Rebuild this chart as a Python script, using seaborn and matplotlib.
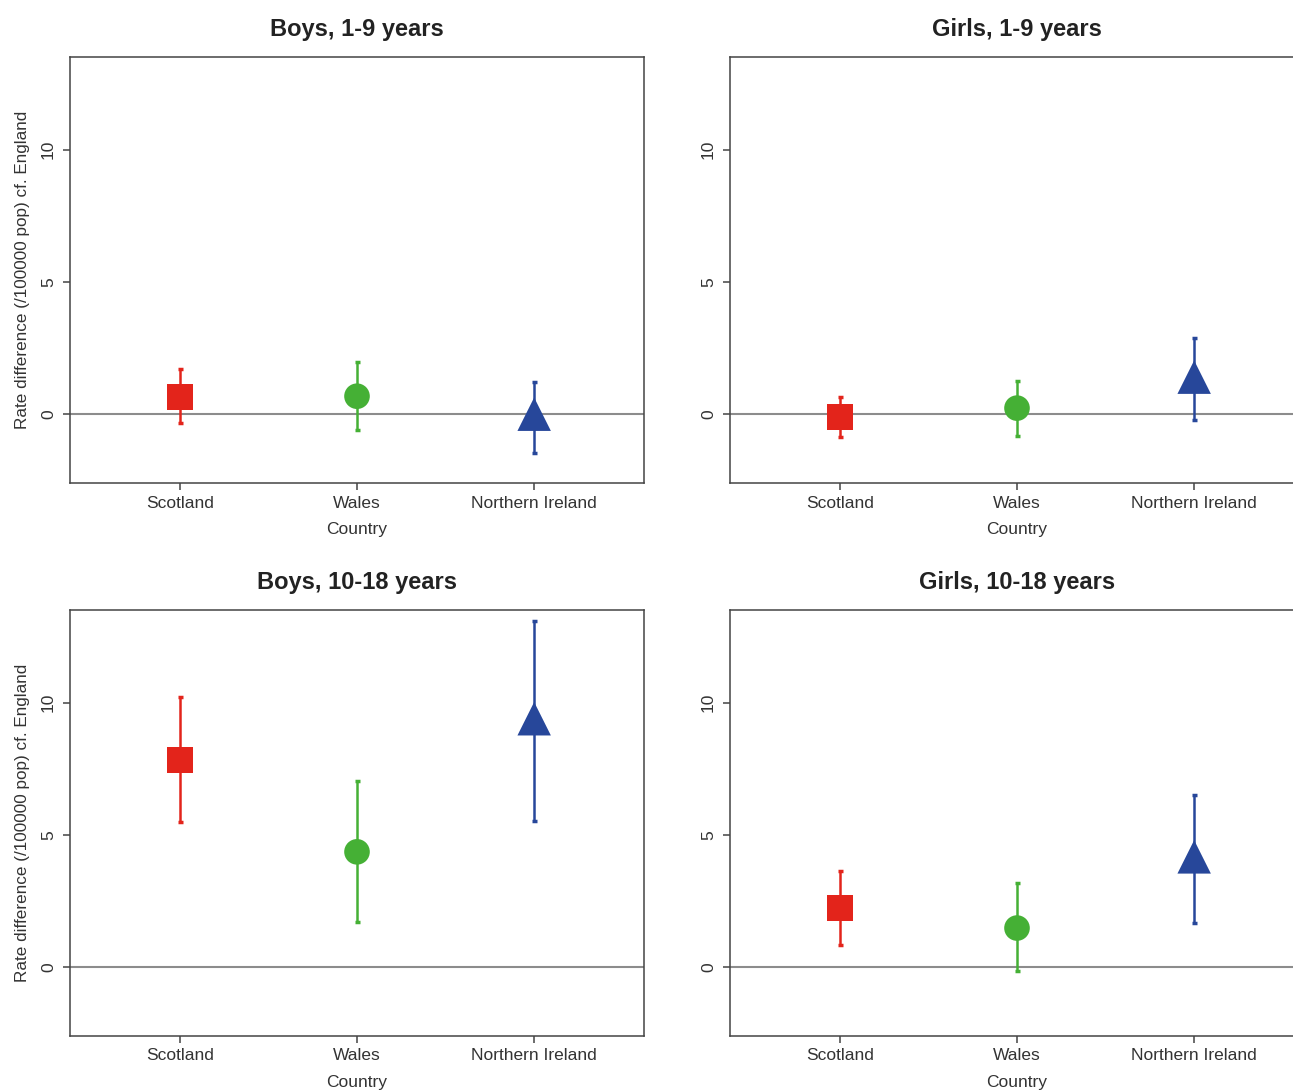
import numpy as np
import pandas as pd
import matplotlib
matplotlib.use("Agg")
import matplotlib.pyplot as plt
import seaborn as sns

countries = ["Scotland", "Wales", "Northern Ireland"]
panels = ["Boys, 1-9 years", "Girls, 1-9 years", "Boys, 10-18 years", "Girls, 10-18 years"]

est = {
    "Boys, 1-9 years": [0.65, 0.68, 0.0],
    "Girls, 1-9 years": [-0.1, 0.23, 1.4],
    "Boys, 10-18 years": [7.84, 4.36, 9.39],
    "Girls, 10-18 years": [2.23, 1.48, 4.17],
}
lower = {
    "Boys, 1-9 years": [-0.34, -0.6, -1.48],
    "Girls, 1-9 years": [-0.87, -0.83, -0.23],
    "Boys, 10-18 years": [5.49, 1.7, 5.53],
    "Girls, 10-18 years": [0.83, -0.15, 1.67],
}
upper = {
    "Boys, 1-9 years": [1.7, 1.97, 1.2],
    "Girls, 1-9 years": [0.64, 1.25, 2.88],
    "Boys, 10-18 years": [10.23, 7.05, 13.07],
    "Girls, 10-18 years": [3.64, 3.18, 6.52],
}

palette = {"Scotland": "#E3241B", "Wales": "#45B035", "Northern Ireland": "#27479A"}
markers = {"Scotland": "s", "Wales": "o", "Northern Ireland": "^"}
sizes = {"Scotland": 350, "Wales": 340, "Northern Ireland": 580}

rows = []
for p in panels:
    for i, c in enumerate(countries):
        rows.append({"panel": p, "Country": c, "x": i + 1,
                     "est": est[p][i], "lo": lower[p][i], "hi": upper[p][i]})
df = pd.DataFrame(rows)

sns.set_style("white")
plt.rcParams["font.family"] = ["Liberation Sans", "DejaVu Sans"]

fig = plt.figure(figsize=(12.93, 10.91), dpi=100)
W, H = 1293, 1091
boxes = [(70, 57), (730, 57), (70, 610), (730, 610)]
frame = "#444444"

for p, (px, py) in zip(panels, boxes):
    ax = fig.add_axes([px / W, 1 - (py + 426) / H, 574 / W, 426 / H])
    d = df[df["panel"] == p]
    ax.axhline(0, color="#8c8c8c", lw=1.5, zorder=1)
    for _, r in d.iterrows():
        ax.errorbar(r["x"], r["est"], yerr=[[r["est"] - r["lo"]], [r["hi"] - r["est"]]],
                    fmt="none", ecolor=palette[r["Country"]], elinewidth=1.8,
                    capsize=1.8, capthick=2.5, zorder=2)
    sns.scatterplot(data=d, x="x", y="est", hue="Country", style="Country",
                    size="Country", palette=palette, markers=markers, sizes=sizes,
                    edgecolor="none", legend=False, ax=ax, zorder=3)
    ax.set_xlim(0.38, 3.62)
    ax.set_ylim(-2.6, 13.5)
    ax.set_xticks([1, 2, 3])
    ax.set_xticklabels(countries)
    ax.set_yticks([0, 5, 10])
    ax.set_yticklabels(["0", "5", "10"], rotation=90, va="center")
    ax.tick_params(axis="both", direction="out", length=5, width=1.1, color=frame,
                   labelsize=12.5, labelcolor="#333333", left=True, bottom=True)
    ax.tick_params(axis="y", pad=5)
    ax.tick_params(axis="x", pad=4)
    for s in ax.spines.values():
        s.set_color(frame)
        s.set_linewidth(1.1)
    ax.set_title(p, fontsize=17, fontweight="bold", color="#222222", pad=15)
    ax.set_xlabel("Country", fontsize=12.5, color="#333333", labelpad=8)
    if px == 70:
        ax.set_ylabel("Rate difference (/100000 pop) cf. England", fontsize=12.3,
                      color="#333333", labelpad=8)
    else:
        ax.set_ylabel("")

fig.savefig("out.png", dpi=100)
